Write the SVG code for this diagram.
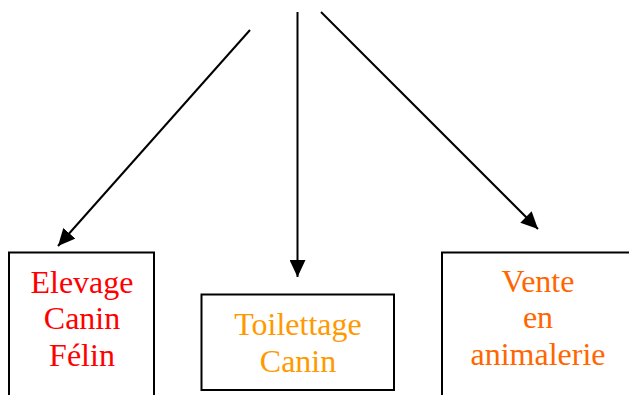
<svg xmlns="http://www.w3.org/2000/svg" width="629" height="395" viewBox="0 0 629 395">
<style>
.box{fill:#fff;stroke:#000;stroke-width:2}
.t{font-family:"Liberation Serif","Times New Roman",serif;font-size:32px;text-anchor:middle}
.c{stroke:#000;stroke-width:2;fill:none}
</style>
<defs>
<marker id="ah" markerUnits="userSpaceOnUse" markerWidth="18" markerHeight="16" viewBox="0 0 18 16" refX="17" refY="8" orient="auto">
<path d="M0,0 L17,8 L0,16 Z" fill="#000"/>
</marker>
</defs>
<rect width="629" height="395" fill="#fff"/>
<g id="connectors">
<line class="c" x1="250" y1="30" x2="58" y2="246" marker-end="url(#ah)"/>
<line class="c" x1="297.5" y1="12" x2="297.5" y2="277" marker-end="url(#ah)"/>
<line class="c" x1="321" y1="12" x2="538" y2="229" marker-end="url(#ah)"/>
</g>
<g id="elevage">
<rect class="box" x="9" y="252.5" width="145" height="150"/>
<text class="t" fill="#FF0000"><tspan x="82" y="293">Elevage</tspan><tspan x="82" y="329">Canin</tspan><tspan x="82" y="366">Félin</tspan></text>
</g>
<g id="toilettage">
<rect class="box" x="201.5" y="294.5" width="192.5" height="95.5"/>
<text class="t" fill="#FF9900"><tspan x="298" y="335">Toilettage</tspan><tspan x="298" y="372">Canin</tspan></text>
</g>
<g id="vente">
<rect class="box" x="442" y="252.5" width="200" height="150"/>
<text class="t" fill="#FF6600"><tspan x="538" y="292">Vente</tspan><tspan x="538" y="328">en</tspan><tspan x="538" y="365">animalerie</tspan></text>
</g>
</svg>
